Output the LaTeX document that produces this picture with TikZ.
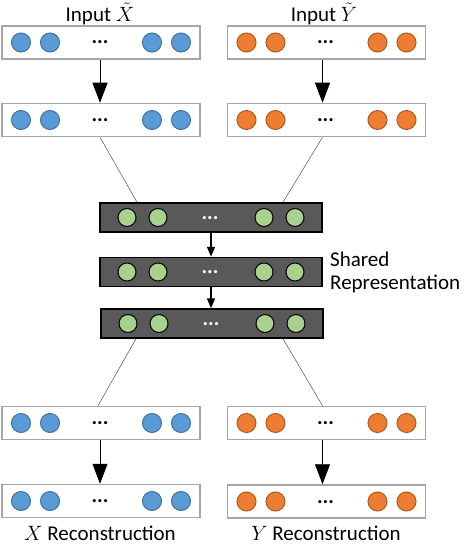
\documentclass[tikz,border=0pt]{standalone}
\usepackage{fontspec}
\setmainfont{Carlito}
\usetikzlibrary{arrows.meta}
\definecolor{boxgray}{HTML}{A6A6A6}
\definecolor{bluefill}{HTML}{5B9BD5}
\definecolor{blueedge}{HTML}{41719C}
\definecolor{orangefill}{HTML}{ED7D31}
\definecolor{orangeedge}{HTML}{AE5A21}
\definecolor{greenfill}{HTML}{A9D18E}
\definecolor{darkfill}{HTML}{595959}
\tikzset{
  lightbox/.style={draw=boxgray, line width=1.5pt, fill=white, minimum width=198pt, minimum height=33pt, inner sep=0pt},
  darkbox/.style={draw=black, line width=1.5pt, fill=darkfill, minimum width=222pt, minimum height=29pt, inner sep=0pt},
  unitnode/.style={circle, minimum size=19pt, inner sep=0pt, line width=1pt},
  blueunit/.style={unitnode, draw=blueedge, fill=bluefill},
  orangeunit/.style={unitnode, draw=orangeedge, fill=orangefill},
  greenunit/.style={unitnode, minimum size=18pt, draw=black, fill=greenfill},
  dotsnode/.style={inner sep=0pt, anchor=base, font=\fontsize{21}{24}\selectfont\bfseries},
  labeltext/.style={inner sep=0pt, font=\fontsize{21}{24}\selectfont},
  bigarrow/.style={-{Triangle[width=15pt,length=20pt]}, line width=0.8pt},
  smallarrow/.style={-{Triangle[width=8pt,length=10pt]}, line width=1.5pt},
  thinline/.style={line width=0.4pt, draw=black!80}
}
\newcommand{\nnlayer}[8]{% name, x, y, box style, unit style, dot colour, inner offset, outer offset
  \node[#4] (#1) at (#2,#3) {};
  \node[#5] (#1-u1) at ({#2-#8},#3) {};
  \node[#5] (#1-u2) at ({#2-#7},#3) {};
  \node[#5] (#1-u3) at ({#2+#7},#3) {};
  \node[#5] (#1-u4) at ({#2+#8},#3) {};
  \node[dotsnode, text=#6] (#1-d) at ({#2-1},{#3+1.5}) {...};
}
\begin{document}
\begin{tikzpicture}[x=1pt, y=-1pt]
\useasboundingbox (0,0) rectangle (466,548);
% input side
\nnlayer{tl1}{101}{42.5}{lightbox}{blueunit}{black}{51}{80}
\nnlayer{tl2}{101}{120}{lightbox}{blueunit}{black}{51}{80}
\nnlayer{tr1}{326.5}{42.5}{lightbox}{orangeunit}{black}{51}{80}
\nnlayer{tr2}{326.5}{120}{lightbox}{orangeunit}{black}{51}{80}
% shared
\nnlayer{s1}{211}{217.5}{darkbox}{greenunit}{white}{53}{84}
\nnlayer{s2}{211}{272}{darkbox}{greenunit}{white}{53}{84}
\nnlayer{s3}{212}{323.5}{darkbox}{greenunit}{white}{53}{84}
% output side
\nnlayer{bl1}{101}{423}{lightbox}{blueunit}{black}{51}{80}
\nnlayer{bl2}{101}{501}{lightbox}{blueunit}{black}{51}{80}
\nnlayer{br1}{326.5}{423}{lightbox}{orangeunit}{black}{51}{80}
\nnlayer{br2}{326.5}{501.5}{lightbox}{orangeunit}{black}{51}{80}
% arrows
\draw[bigarrow] ([xshift=-1pt]tl1.south) -- ([xshift=-1pt]tl2.north);
\draw[bigarrow] ([xshift=-4pt]tr1.south) -- ([xshift=-4pt]tr2.north);
\draw[smallarrow] (s1.south) -- (s2.north);
\draw[smallarrow] (s2.south) -- (s3.north -| s2.south);
\draw[bigarrow] ([xshift=-1pt]bl1.south) -- ([xshift=-1pt]bl2.north);
\draw[bigarrow] ([xshift=-4pt]br1.south) -- ([xshift=-4pt]br2.north);
% thin connectors
\draw[thinline] ([xshift=-1pt]tl2.south) -- ([xshift=-74pt]s1.north);
\draw[thinline] ([xshift=-4pt]tr2.south) -- ([xshift=72pt]s1.north);
\draw[thinline] ([xshift=-76pt]s3.south) -- ([xshift=-3pt]bl1.north);
\draw[thinline] ([xshift=71pt]s3.south) -- ([xshift=-4pt]br1.north);
% labels
\node[labeltext] (inx) at (100,14) {Input $\tilde{X}$};
\node[labeltext] (iny) at (324,14) {Input $\tilde{Y}$};
\node[labeltext, anchor=west, align=left, font=\fontsize{21}{23}\selectfont] (shared) at (330,272) {Shared\\Representation};
\node[labeltext] (recx) at (100,533) {$X$ Reconstruction};
\node[labeltext] (recy) at (326,533) {$Y$ Reconstruction};
\end{tikzpicture}
\end{document}
